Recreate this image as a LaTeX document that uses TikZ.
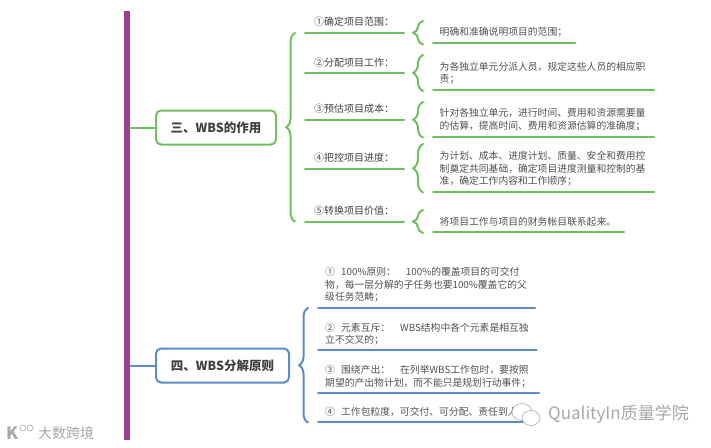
\documentclass[tikz,border=0pt]{standalone}
\usepackage{fontspec}
\setmainfont{Noto Sans CJK SC}
\usetikzlibrary{decorations.pathreplacing}
\definecolor{spinepurple}{HTML}{9B4190}
\definecolor{mapgreen}{HTML}{70BF5F}
\definecolor{mapblue}{HTML}{5B8CC8}
\definecolor{leafgray}{HTML}{505050}
\definecolor{markgray}{HTML}{A8A8A8}
\tikzset{
  rootbox/.style={draw, line width=2pt, rounded corners=5pt, minimum height=34pt, inner sep=0pt, text=black!75, font=\fontsize{12.5}{15}\selectfont\bfseries},
  greenline/.style={draw=mapgreen, line width=2pt},
  blueline/.style={draw=mapblue, line width=2pt},
  curlybig/.style={decorate, decoration={brace, amplitude=9pt}},
  curlysmall/.style={decorate, decoration={brace, amplitude=10pt}},
  topiclabel/.style={inner sep=0pt, text=black!75, font=\fontsize{10}{12}\selectfont},
  leaflabel/.style={anchor=north west, align=left, inner sep=0pt, text=leafgray, font=\fontsize{9.8}{12.7}\selectfont},
  marklabel/.style={inner sep=0pt, text=markgray}
}

\begin{document}
\begin{tikzpicture}[x=1pt, y=-1pt, line cap=round, line join=round]
  \useasboundingbox (0,0) rectangle (711,447);

  % Purple spine on the left
  \node[fill=spinepurple, minimum width=6pt, minimum height=429pt, inner sep=0pt] (spine) at (127,225.5) {};

  % Branch three: box and its main connector
  \node[rootbox, draw=mapgreen, minimum width=120pt] (rootA) at (216,127.5) {三、WBS的作用};
  \draw[greenline] (spine.east |- rootA) -- (rootA);
  \coordinate (bigAtop) at (295,33);
  \coordinate (bigAbot) at (295,221.5);
  \draw[greenline, curlybig] (bigAbot) -- (bigAtop);

  % Topic lines
  \coordinate (a1) at (305,32.5);  \coordinate (a1e) at (404,32.5);
  \coordinate (a2) at (305,73);    \coordinate (a2e) at (404,73);
  \coordinate (a3) at (305,119.5); \coordinate (a3e) at (404,119.5);
  \coordinate (a4) at (305,168.5); \coordinate (a4e) at (404,168.5);
  \coordinate (a5) at (305,221.5); \coordinate (a5e) at (404,221.5);
  \draw[greenline] (a1) -- (a1e);
  \draw[greenline] (a2) -- (a2e);
  \draw[greenline] (a3) -- (a3e);
  \draw[greenline] (a4) -- (a4e);
  \draw[greenline] (a5) -- (a5e);
  \node[topiclabel] (t1) at (354,22) {①确定项目范围：};
  \node[topiclabel] (t2) at (354,62.5) {②分配项目工作：};
  \node[topiclabel] (t3) at (354,109) {③预估项目成本：};
  \node[topiclabel] (t4) at (354,157.5) {④把控项目进度：};
  \node[topiclabel] (t5) at (354,211) {⑤转换项目价值：};

  % Small braces towards the leaves
  \draw[greenline, curlysmall] (423,44.5) -- (423,21);
  \draw[greenline, curlysmall] (423,91) -- (423,55);
  \draw[greenline, curlysmall] (423,137.5) -- (423,102);
  \draw[greenline, curlysmall] (423,192.5) -- (423,144);
  \draw[greenline, curlysmall] (423,233) -- (423,210);

  % Leaf texts with their underlines
  \node[leaflabel] (l1) at (439.5,27.5) {明确和准确说明项目的范围；};
  \node[leaflabel] (l2) at (439.5,61.5) {为各独立单元分派人员，规定这些人员的相应职\\责；};
  \node[leaflabel] (l3) at (439.5,108) {针对各独立单元，进行时间、费用和资源需要量\\的估算，提高时间、费用和资源估算的准确度；};
  \node[leaflabel] (l4) at (439.5,151) {为计划、成本、进度计划、质量、安全和费用控\\制奠定共同基础，确定项目进度测量和控制的基\\准，确定工作内容和工作顺序；};
  \node[leaflabel] (l5) at (439.5,217) {将项目工作与项目的财务帐目联系起来。};
  \coordinate (u1) at (433,43);    \coordinate (u1e) at (575,43);
  \coordinate (u2) at (433,89.5);  \coordinate (u2e) at (654,89.5);
  \coordinate (u3) at (433,136.5); \coordinate (u3e) at (654,136.5);
  \coordinate (u4) at (433,191.5); \coordinate (u4e) at (654,191.5);
  \coordinate (u5) at (433,232);   \coordinate (u5e) at (624,232);
  \draw[greenline] (u1) -- (u1e);
  \draw[greenline] (u2) -- (u2e);
  \draw[greenline] (u3) -- (u3e);
  \draw[greenline] (u4) -- (u4e);
  \draw[greenline] (u5) -- (u5e);

  % Branch four
  \node[rootbox, draw=mapblue, minimum width=133pt] (rootB) at (222.5,365.5) {四、WBS分解原则};
  \draw[blueline] (spine.east |- rootB) -- (rootB);
  \coordinate (bigBtop) at (308,308);
  \coordinate (bigBbot) at (308,422.5);
  \draw[blueline, curlybig] (bigBbot) -- (bigBtop);
  \node[leaflabel] (p1) at (325,267) {① \hspace{4pt}100\%原则：\hspace{10pt}100\%的覆盖项目的可交付\\物，每一层分解的子任务也要100\%覆盖它的父\\级任务范畴；};
  \node[leaflabel] (p2) at (325,322.5) {② \hspace{4pt}元素互斥：\hspace{10pt}WBS结构中各个元素是相互独\\立不交叉的；};
  \node[leaflabel] (p3) at (325,365) {③ \hspace{4pt}围绕产出：\hspace{10pt}在列举WBS工作包时，要按照\\期望的产出物计划，而不能只是规划行动事件；};
  \node[leaflabel] (p4) at (325,407) {④ \hspace{4pt}工作包粒度，可交付、可分配、责任到人};
  \coordinate (v1) at (318,307.5); \coordinate (v1e) at (535,307.5);
  \coordinate (v2) at (318,350);   \coordinate (v2e) at (536.5,350);
  \coordinate (v3) at (318,392.5); \coordinate (v3e) at (539,392.5);
  \coordinate (v4) at (318,422);   \coordinate (v4e) at (526,422);
  \draw[blueline] (v1) -- (v1e);
  \draw[blueline] (v2) -- (v2e);
  \draw[blueline] (v3) -- (v3e);
  \draw[blueline] (v4) -- (v4e);

  % Watermarks
  \draw[markgray, fill=white, line width=0.6pt] (522,412) ellipse (10pt and 8.5pt);
  \draw[markgray, fill=white, line width=0.6pt] (531,418) ellipse (9pt and 7.5pt);
  \node[marklabel, anchor=west, font=\fontsize{17}{19}\selectfont] (markR) at (548,414.5) {QualityIn质量学院};
  \node[marklabel, anchor=west, font=\fontsize{14}{16}\selectfont] (markL) at (38,433) {大数跨境};
  \node[marklabel, anchor=west, font=\fontsize{17}{19}\selectfont\bfseries] (markK) at (6,433) {K};
  \draw[markgray, line width=0.6pt] (23,428) circle (3pt);
  \draw[markgray, line width=0.6pt] (30,428) circle (3pt);
\end{tikzpicture}
\end{document}
